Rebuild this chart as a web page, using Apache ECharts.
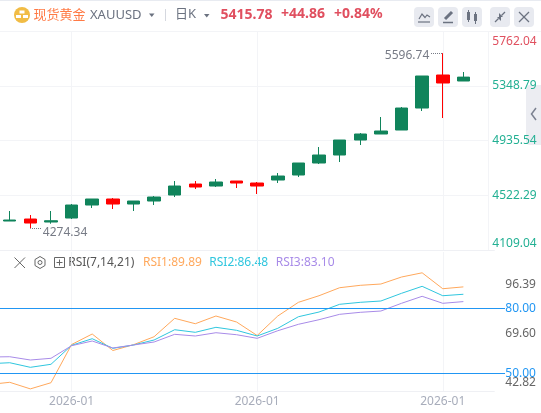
<!DOCTYPE html>
<html><head><meta charset="utf-8">
<style>html,body{margin:0;padding:0;background:#fff}#c{width:541px;height:413px}</style>
<script src="https://cdn.jsdelivr.net/npm/echarts@6/dist/echarts.min.js"></script>
</head><body><div id="c"></div>
<script>
const categories = ['2026-01','2026-01','2026-01','2026-01','2026-01','2026-01','2026-01','2026-01','2026-01','2026-01','2026-01','2026-01','2026-01','2026-01','2026-01','2026-01','2026-01','2026-01','2026-01','2026-01','2026-01','2026-01','2026-01','2026-01','2026-01'];
const labelledCategoryIndexes = [4, 13, 22];
const priceTicks = [4109.04, 4522.29, 4935.54, 5348.79, 5762.04];
const rsiLevelTicks = [50, 80];
const rsiRangeTicks = [42.82, 69.60, 96.39];
// [open, close, low, high]
const candles = [
  ['-','-','-','-'],
  [4328.1,4335.6,4328.1,4403.7],
  [4343.2,4312.9,4274.34,4373.4],
  [4320.5,4330.3,4307.6,4403.7],
  [4350.7,4449.0,4343.2,4456.6],
  [4449.0,4494.4,4426.3,4494.4],
  [4494.4,4456.6,4418.8,4501.9],
  [4456.6,4479.2,4403.7,4479.2],
  [4479.2,4509.5,4449.0,4517.0],
  [4524.6,4592.6,4509.5,4630.4],
  [4607.7,4585.1,4569.9,4630.4],
  [4592.6,4622.9,4585.1,4645.5],
  [4630.4,4615.3,4577.5,4630.4],
  [4615.3,4592.6,4532.2,4622.9],
  [4638.0,4668.2,4615.3,4690.9],
  [4675.8,4766.5,4660.6,4766.5],
  [4766.5,4827.0,4758.9,4887.4],
  [4827.0,4940.3,4774.0,4940.3],
  [4940.3,4985.7,4902.5,4993.3],
  [4985.7,5008.4,4985.7,5114.2],
  [5015.9,5182.2,5015.9,5189.8],
  [5182.2,5424.1,5159.6,5424.1],
  [5431.7,5371.2,5106.6,5596.74],
  [5386.3,5415.78,5386.3,5454.4]
];
const rsi1 = [44.83,45.85,42.82,45.66,63.29,68.14,60.52,63.20,66.89,75.38,72.89,76.45,73.68,67.45,76.45,82.77,85.81,89.51,90.61,91.21,94.44,96.39,89.04,89.89];
const rsi2 = [54.43,54.89,52.77,54.16,62.92,65.97,61.54,63.06,65.37,70.12,68.92,71.23,69.85,67.22,70.77,76.12,78.29,81.85,82.77,83.37,86.92,90.15,85.81,86.48];
const rsi3 = [57.52,57.66,56.14,56.93,62.74,64.91,61.68,63.06,64.45,68.00,67.22,68.74,67.82,66.15,69.66,72.62,74.74,77.23,78.15,78.75,82.31,85.54,82.31,83.10];
const highMark = {index: 22, value: 5596.74};
const lowMark = {index: 2, value: 4274.34};

const FONT = '"Noto Sans","Noto Sans CJK SC",sans-serif';
const UP = '#10845b', DOWN = '#ff0000';
const ORANGE = '#ffa85c', CYAN = '#2fc6de', PURPLE = '#a88be8', BLUE = '#2196f3';
const GRID_LINE = '#f3f4f7', ICON = '#6b7280';
const LEFT = -21.2, WIDTH = 515.5;

const showLabelled = i => labelledCategoryIndexes.includes(i);
const xBase = {
  type: 'category', data: categories, boundaryGap: true,
  axisTick: {show: false, alignWithLabel: true},
  axisLine: {show: true, lineStyle: {color: '#eff0f4'}},
  splitLine: {show: true, interval: showLabelled, alignWithLabel: true, lineStyle: {color: GRID_LINE}}
};

const T = (text, x, y, fill, size, weight) => ({type:'text', x, y, silent:true, style:{text, fill, font:(weight||'normal')+' '+(size||13)+'px '+FONT, textVerticalAlign:'middle'}});
const L = (pts, stroke, w) => ({type:'polyline', silent:true, shape:{points:pts}, style:{stroke:stroke||ICON, fill:null, lineWidth:w||1.2}});
const R = (x,y,w,h,fill,r,z) => ({type:'rect', silent:true, z:z||0, shape:{x,y,width:w,height:h,r:r||0}, style:{fill}});
const P = (pts, fill) => ({type:'polygon', silent:true, shape:{points:pts}, style:{fill}});

const chrome = [
  R(0,0,541,1,'#e8ebf1'),
  R(0,31,541,1,'#f3f4f7'),
  {type:'circle', silent:true, shape:{cx:22,cy:15,r:8}, style:{fill:'#f1bc45'}},
  R(19.5,10.5,5,3,'#fff'), R(16,15,5,3,'#fff'), R(23,15,5,3,'#fff'),
  T('现货黄金',33.5,15,'#ff7a45',13),
  T('XAUUSD',90,15.5,'#6b7280',13),
  P([[149,13.5],[154.5,13.5],[151.75,17]],'#6b7280'),
  R(165,9,1,12,'#d5d8df'),
  T('日K',175,14.5,'#6b7280',13),
  P([[204,14],[209.5,14],[206.75,17.5]],'#6b7280'),
  T('5415.78',220.5,15,'#e04f5f',14,'bold'),
  T('+44.86',281,14.5,'#e04f5f',14,'bold'),
  T('+0.84%',334,14.5,'#e04f5f',14,'bold'),
  R(414,7,20,20,'#e8eaf0',4), R(438,7,20,20,'#e8eaf0',4), R(462,7,20,20,'#e8eaf0',4), R(490,7,20,20,'#e8eaf0',4), R(514,7,20,20,'#e8eaf0',4),
  L([[419,19],[422,14],[425,17.5],[427,15],[430,17]]), L([[418,22],[430,22]]),
  L([[445,19],[452,12]],ICON,3), L([[443,22.5],[453,22.5]],ICON,1.5),
  R(467,12,3,8,ICON), R(468,10,1,12,ICON), R(474,14,3,7,ICON), R(475,12,1,12,ICON),
  L([[495,22],[498.5,18.5]]), P([[497,17],[501,17],[501,21]],ICON), L([[505,12],[501.5,15.5]]), P([[499,13],[499,17],[503,17]],ICON),
  L([[519,12],[529,22]]), L([[529,12],[519,22]]),
  R(526,85,15,60,'#ecedf2',[4,0,0,4],-1),
  L([[536,108],[531.5,114],[536,120]],'#7b8190',1.5),
  R(488.5,32,3.5,218,'#fff',0,1),
  R(488,32,1,218,GRID_LINE,0,1),
  L([[14.5,257.5],[25,268]],'#666',1), L([[25,257.5],[14.5,268]],'#666',1),
  L([[40,256.5],[45,259.5],[45,265.5],[40,268.5],[35,265.5],[35,259.5],[40,256.5]],'#666',1),
  {type:'circle', silent:true, shape:{cx:40,cy:262.5,r:2}, style:{stroke:'#666',fill:null,lineWidth:1}},
  {type:'rect', silent:true, shape:{x:54.5,y:257.5,width:10,height:10}, style:{stroke:'#666',fill:null,lineWidth:1}},
  L([[59.5,259.5],[59.5,265.5]],'#666',1), L([[56.5,262.5],[62.5,262.5]],'#666',1),
  T('RSI(7,14,21)',68.3,262.7,'#555',12),
  T('RSI1:89.89',143,262.7,ORANGE,12),
  T('RSI2:86.48',209.3,262.7,CYAN,12),
  T('RSI3:83.10',275.7,262.7,PURPLE,12)
];

const pointLabel = (mark, pos, dist, off) => ({
  coord: [mark.index, mark.value], value: mark.value, symbol: 'circle', symbolSize: 1,
  itemStyle: {color: 'rgba(0,0,0,0)'},
  label: {show:true, position:pos, distance:dist, offset:off, formatter:String(mark.value), color:'#777b86', fontSize:12, fontFamily:FONT}
});
const leader = (mark, px) => [
  {x: px, yAxis: mark.value},
  {xAxis: mark.index, yAxis: mark.value}
];
const level = v => [{x:0, yAxis:v},{x:505, yAxis:v}];
const rsiLine = (name, data, color) => ({name, type:'line', xAxisIndex:1, yAxisIndex:1, data, showSymbol:false, symbol:'none', lineStyle:{color,width:1}, itemStyle:{color}, z:3});

const chart = echarts.init(document.getElementById('c'), null, {renderer:'canvas'});
chart.setOption({
  animation: false,
  backgroundColor: '#fff',
  textStyle: {fontFamily: FONT},
  graphic: chrome,
  grid: [
    {left: LEFT, width: WIDTH, top: 31.3, height: 218.7, outerBoundsMode:'none'},
    {left: LEFT, width: WIDTH, top: 252, height: 139, outerBoundsMode:'none'}
  ],
  xAxis: [
    Object.assign({gridIndex:0}, xBase, {axisLabel:{show:false}}),
    Object.assign({gridIndex:1}, xBase, {axisLabel:{show:true, interval:showLabelled, color:'#a8adbb', fontSize:12, fontFamily:FONT, margin:5, alignWithLabel:true}})
  ],
  yAxis: [
    {gridIndex:0, type:'value', position:'right', min:4109.04, max:5762.04,
     axisLine:{show:false}, axisTick:{show:false, customValues:priceTicks},
     splitLine:{show:true, lineStyle:{color:GRID_LINE}},
     axisLabel:{customValues:priceTicks, margin:-2, align:'left', fontSize:12, fontFamily:FONT,
       padding:[4,0,0,0],
       verticalAlignMinLabel:'bottom', verticalAlignMaxLabel:'top',
       formatter:v=>Number(v).toFixed(2),
       color:v=>Number(v)>=5762?'#e0505f':'#22b093'}},
    {gridIndex:1, type:'value', position:'right', min:41.84, max:105.99,
     axisLine:{show:false}, axisTick:{show:false, customValues:rsiLevelTicks}, splitLine:{show:false},
     axisLabel:{customValues:rsiLevelTicks, margin:11, align:'left', fontSize:12, fontFamily:FONT, color:BLUE, padding:[2,0,0,0], formatter:v=>Number(v).toFixed(2)}},
    {gridIndex:1, type:'value', position:'right', min:38.30, max:113.97,
     axisLine:{show:false}, axisTick:{show:false, customValues:rsiRangeTicks}, splitLine:{show:false},
     axisLabel:{customValues:rsiRangeTicks, margin:11, align:'left', fontSize:12, fontFamily:FONT, color:'#666', padding:[2,0,0,0], formatter:v=>Number(v).toFixed(2)}}
  ],
  series: [
    {type:'candlestick', xAxisIndex:0, yAxisIndex:0, data:candles, barWidth:13,
     itemStyle:{color:UP, color0:DOWN, borderColor:UP, borderColor0:DOWN, borderWidth:1},
     markPoint:{silent:true, animation:false, data:[pointLabel(highMark,'left',13,[0,2]), pointLabel(lowMark,'right',12,[0,4])]},
     markLine:{silent:true, animation:false, symbol:'none', label:{show:false},
       lineStyle:{type:'dotted', color:'#777b86', width:1},
       data:[leader(highMark,431), leader(lowMark,41)]}
    },
    Object.assign(rsiLine('RSI1',rsi1,ORANGE),{markLine:{silent:true, animation:false, symbol:'none', label:{show:false}, lineStyle:{type:'solid', color:BLUE, width:1}, data:rsiLevelTicks.map(level)}}),
    rsiLine('RSI2',rsi2,CYAN),
    rsiLine('RSI3',rsi3,PURPLE)
  ]
});
</script></body></html>
